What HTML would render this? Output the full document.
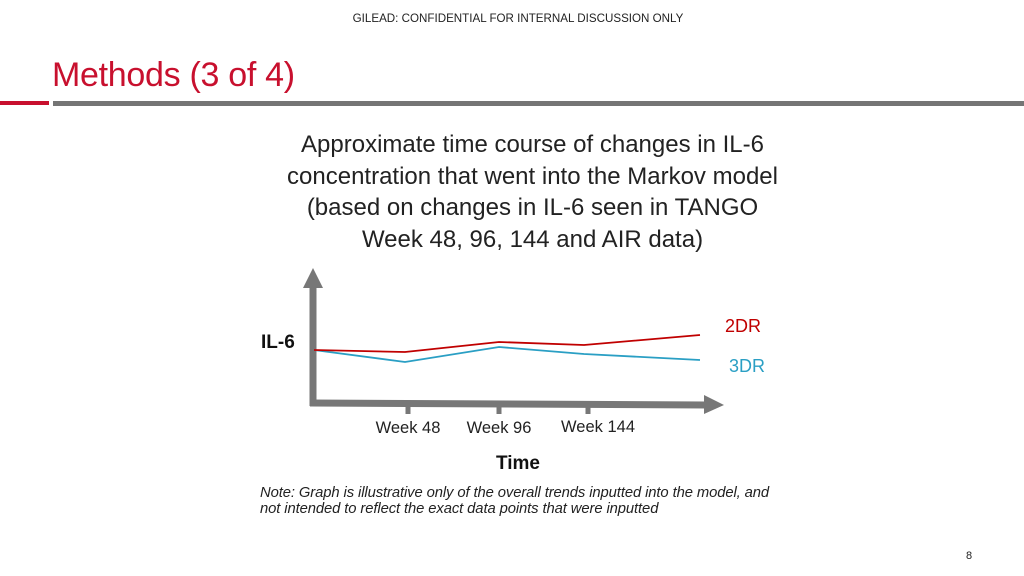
<!DOCTYPE html>
<html><head><meta charset="utf-8"><style>
body{margin:0;width:1024px;height:576px;background:#fff;font-family:"Liberation Sans",sans-serif;position:relative;overflow:hidden}
.a{position:absolute;white-space:nowrap}
</style></head><body>
<div class="a" style="left:0;width:1036px;text-align:center;top:12px;font-size:11.6px;color:#222">GILEAD:  CONFIDENTIAL FOR INTERNAL DISCUSSION ONLY</div>
<div class="a" style="left:52px;top:56px;font-size:34px;color:#c8102e;letter-spacing:-0.3px">Methods (3 of 4)</div>
<div class="a" style="left:0;top:101px;width:49px;height:4px;background:#c8102e"></div>
<div class="a" style="left:53px;top:101px;width:971px;height:5px;background:#757575"></div>
<div class="a" style="left:230px;width:605px;top:129px;text-align:center;font-size:24px;line-height:31.5px;color:#222">Approximate time course of changes in IL-6<br>concentration that went into the Markov model<br>(based on changes in IL-6 seen in TANGO<br>Week 48, 96, 144 and AIR data)</div>
<svg class="a" style="left:0;top:0" width="1024" height="576" id="ch"></svg>
<div class="a" style="left:260px;top:485px;font-size:14.8px;font-style:italic;color:#222;line-height:16px;letter-spacing:-0.1px">Note: Graph is illustrative only of the overall trends inputted into the model, and<br>not intended to reflect the exact data points that were inputted</div>
<div class="a" style="left:966px;top:550px;font-size:11px;color:#222">8</div>
<script>
const xPos=["Start","Week 48","Week 96","Week 144","End"];
const red2DR=[5.3,5.1,6.1,5.8,6.8];
const blue3DR=[5.3,4.1,5.6,4.9,4.3];
const tickLabels=["Week 48","Week 96","Week 144"];
const svg=document.getElementById('ch');const NS='http://www.w3.org/2000/svg';
const xs=[314,405,499,584,700];
function X(i){return xs[i];}
function Y(v){return 403-v*10;}
function el(t,a,name){const e=document.createElementNS(NS,t);for(const k in a)e.setAttribute(k,a[k]);


svg.appendChild(e);return e;}
el('line',{x1:313,y1:285,x2:313,y2:406,stroke:'#777','stroke-width':7},'y-axis');
el('polygon',{points:'303,288 313,268 323,288',fill:'#777'},'y-axis-arrow');
el('line',{x1:310,y1:403,x2:706,y2:405,stroke:'#777','stroke-width':7},'x-axis');
el('polygon',{points:'704,395 724,405 704,414',fill:'#777'},'x-axis-arrow');
const tx=[408,499,598];
tickLabels.forEach((t,i)=>{el('line',{x1:[408,499,588][i],y1:404,x2:[408,499,588][i],y2:414,stroke:'#777','stroke-width':5},'x-tick');
const tt=el('text',{x:tx[i],y:i==2?432:433,'text-anchor':'middle','font-size':16.5,fill:'#222','font-family':'Liberation Sans'},'x-tick-label');tt.textContent=t;});
function line(d,c,n){el('polyline',{points:d.map((v,i)=>X(i)+','+Y(v)).join(' '),fill:'none',stroke:c,'stroke-width':1.8},n);}
line(blue3DR,'#2a9fc4','series-3dr');
line(red2DR,'#c00000','series-2dr');
let t=el('text',{x:725,y:332,'font-size':18,fill:'#c00000','font-family':'Liberation Sans'},'legend-2dr');t.textContent='2DR';
t=el('text',{x:729,y:372,'font-size':18,fill:'#2a9fc4','font-family':'Liberation Sans'},'legend-3dr');t.textContent='3DR';
t=el('text',{x:261,y:348,'font-size':19,'font-weight':'bold',fill:'#111','font-family':'Liberation Sans'},'y-axis-title');t.textContent='IL-6';
t=el('text',{x:518,y:469,'text-anchor':'middle','font-size':19,'font-weight':'bold',fill:'#111','font-family':'Liberation Sans'},'x-axis-title');t.textContent='Time';
</script>
</body></html>
